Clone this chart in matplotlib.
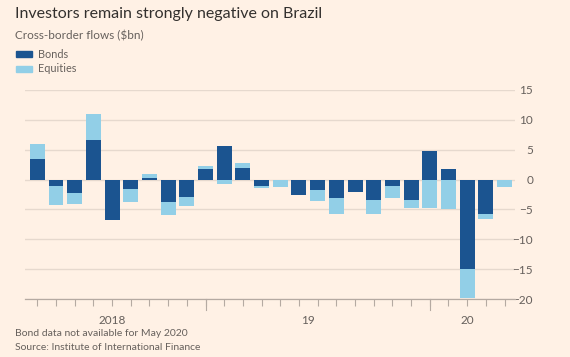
import matplotlib
matplotlib.use("Agg")
import matplotlib.pyplot as plt
import numpy as np
from matplotlib.patches import Rectangle
from matplotlib.transforms import blended_transform_factory

months = ["Apr 2018", "May 2018", "Jun 2018", "Jul 2018", "Aug 2018", "Sep 2018",
          "Oct 2018", "Nov 2018", "Dec 2018",
          "Jan 2019", "Feb 2019", "Mar 2019", "Apr 2019", "May 2019", "Jun 2019",
          "Jul 2019", "Aug 2019", "Sep 2019", "Oct 2019", "Nov 2019", "Dec 2019",
          "Jan 2020", "Feb 2020", "Mar 2020", "Apr 2020", "May 2020"]
bonds = [3.5, -1.1, -2.3, 6.6, -6.7, -1.5, 0.3, -3.8, -3.0,
         1.75, 5.7, 2.0, -1.1, 0.0, -2.6, -1.75, -3.1, -2.1, -3.4, -1.0, -3.4,
         4.8, 1.7, -14.9, -5.7, np.nan]
equities = [2.4, -3.15, -1.8, 4.3, 0.0, -2.2, 0.6, -2.05, -1.5,
            0.45, -0.8, 0.7, -0.3, -1.2, 0.0, -1.85, -2.7, 0.0, -2.4, -2.1, -1.3,
            -4.7, -4.9, -5.0, -0.85, -1.2]
year_labels = ["2018", "19", "20"]
y_ticks = [15, 10, 5, 0, -5, -10, -15, -20]

BG = "#fff1e5"
DARK = "#1b5490"
LIGHT = "#92cfe7"
GRID = "#e6d9ce"
TXT = "#66605c"
TICK = "#b5aaa2"
plt.rcParams["font.family"] = ["Lato", "DejaVu Sans"]

fig = plt.figure(figsize=(5.7, 3.57), dpi=100, facecolor=BG)
ax = fig.add_axes([25/570, 1-299/357, 490/570, 209/357])
ax.set_facecolor(BG)

x = np.arange(len(months))
b = np.nan_to_num(np.array(bonds, dtype=float))
e = np.array(equities, dtype=float)
eq_bottom = np.where(np.sign(b) == np.sign(e), b, 0.0)

ax.bar(x, b, width=0.8, color=DARK, zorder=3)
ax.bar(x, e, width=0.8, bottom=eq_bottom, color=LIGHT, zorder=3)

ax.set_ylim(-20, 15)
ax.set_xlim(-0.66, len(months) - 1 + 0.56)
ax.set_yticks(y_ticks)
ax.yaxis.tick_right()
ax.tick_params(axis="y", length=0, pad=13, labelsize=8.5, labelcolor=TXT)
for lab in ax.get_yticklabels():
    lab.set_horizontalalignment("right")
ax.grid(axis="y", color=GRID, linewidth=1, zorder=0)
for s in ax.spines.values():
    s.set_visible(False)

ax.set_xticks(x)
ax.set_xticklabels([])
ax.tick_params(axis="x", length=5, width=0.8, color=TICK)
ax.axhline(-20, color=TICK, linewidth=0.9, zorder=2, clip_on=False)

tr = blended_transform_factory(ax.transData, ax.transAxes)
jan_idx = [i for i, m in enumerate(months) if m.startswith("Jan")]
for i in jan_idx:
    ax.plot([i, i], [0, -11/209], transform=tr, color=TICK, lw=0.8, clip_on=False)

years = [m.split()[1] for m in months]
uniq = []
for yv in years:
    if yv not in uniq:
        uniq.append(yv)
for lab, yv in zip(year_labels, uniq):
    idx = [i for i, v in enumerate(years) if v == yv]
    ax.text(np.mean(idx), -21/209, lab, transform=tr, ha="center", va="center",
            fontsize=8.5, color=TXT)

fig.text(15/570, 1-14/357, "Investors remain strongly negative on Brazil",
         fontsize=11.5, color="#33302e", va="center", ha="left")
fig.text(15/570, 1-36/357, "Cross-border flows ($bn)", fontsize=8.5, color=TXT,
         va="center", ha="left")
fig.patches.append(Rectangle((16/570, 1-57/357), 16/570, 6/357, transform=fig.transFigure,
                             color=DARK, figure=fig))
fig.patches.append(Rectangle((16/570, 1-72/357), 16/570, 6/357, transform=fig.transFigure,
                             color=LIGHT, figure=fig))
fig.text(38/570, 1-54/357, "Bonds", fontsize=7.8, color=TXT, va="center", ha="left")
fig.text(38/570, 1-69/357, "Equities", fontsize=7.8, color=TXT, va="center", ha="left")
fig.text(15/570, 1-334/357, "Bond data not available for May 2020", fontsize=7.5,
         color=TXT, va="center", ha="left")
fig.text(15/570, 1-348/357, "Source: Institute of International Finance", fontsize=7.5,
         color=TXT, va="center", ha="left")

fig.savefig("out.png", dpi=100, facecolor=BG)
